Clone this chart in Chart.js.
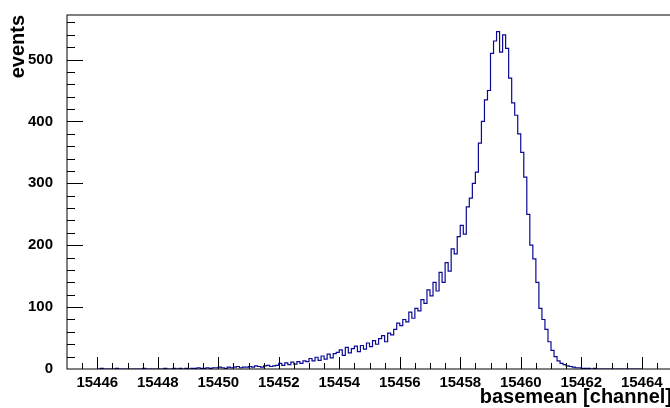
<!DOCTYPE html>
<html>
<head>
<meta charset="utf-8">
<script src="https://cdn.jsdelivr.net/npm/chart.js@4/dist/chart.umd.min.js"></script>
<style>
  html, body { margin: 0; padding: 0; background: #fff; overflow: hidden; }
  canvas { display: block; }
</style>
</head>
<body>
<canvas id="histo" width="675" height="408"></canvas>
<script>
// histogram binning (channel units)
const binStart = 15446.0;
const binWidth = 0.1;

// counts per bin, one row per channel unit
const counts = [
  0, 0, 1, 0, 0, 0, 0, 1, 0, 0,             // 15446
  0, 0, 0, 0, 0, 0, 1, 0, 0, 0,             // 15447
  0, 0, 0, 1, 0, 0, 1, 0, 1, 0,             // 15448
  1, 0, 1, 1, 2, 1, 1, 2, 1, 2,             // 15449
  2, 3, 2, 1, 3, 2, 3, 4, 2, 3,             // 15450
  3, 4, 3, 5, 4, 3, 5, 6, 4, 5,             // 15451
  6, 9, 6, 10, 7, 11, 8, 12, 9, 13,         // 15452
  12, 17, 13, 19, 14, 21, 16, 24, 18, 25,   // 15453
  27, 31, 22, 35, 26, 33, 37, 28, 38, 32,   // 15454
  42, 36, 46, 40, 49, 54, 44, 58, 55, 64,   // 15455
  74, 70, 80, 76, 92, 82, 98, 94, 112, 106, // 15456
  128, 118, 140, 126, 156, 140, 172, 158, 194, 186, // 15457
  214, 232, 218, 262, 276, 300, 318, 365, 400, 435, // 15458
  450, 510, 530, 545, 512, 540, 518, 470, 430, 410, // 15459
  380, 350, 310, 250, 200, 178, 140, 98, 80, 64,    // 15460
  44, 30, 20, 13, 9, 7, 5, 4, 3, 2,         // 15461
  2, 1, 1, 1, 0, 1, 0, 0, 0, 0,             // 15462
  0, 0, 0, 0, 0, 0, 0, 0, 0, 0              // 15463
];

const xTickValues = [15446, 15448, 15450, 15452, 15454, 15456, 15458, 15460, 15462, 15464];
const yTickValues = [0, 100, 200, 300, 400, 500];

const xRange = [15445, 15465];
const yRange = [0, 572];

// bin edges -> step points
const points = counts.map((c, i) => ({ x: binStart + i * binWidth, y: c }));
points.push({ x: binStart + counts.length * binWidth, y: counts[counts.length - 1] });

const labelFont = { family: '"Liberation Sans", Arial, sans-serif', size: 15, weight: 'bold' };
const titleFont = { family: '"Liberation Sans", Arial, sans-serif', size: 20, weight: 'bold' };

// ROOT-like frame with inward ticks
const framePlugin = {
  id: 'frame',
  afterDatasetsDraw(chart) {
    const { ctx, chartArea: a, scales: { x, y } } = chart;
    ctx.save();
    ctx.strokeStyle = '#000';
    ctx.lineWidth = 1;
    ctx.beginPath();
    // x ticks every 0.5, long at labelled values
    for (let v = xRange[0] + 0.5; v < xRange[1]; v += 0.5) {
      const px = Math.round(x.getPixelForValue(v)) + 0.5;
      const len = xTickValues.includes(v) ? 12 : 6;
      ctx.moveTo(px, a.bottom);
      ctx.lineTo(px, a.bottom - len);
    }
    // y ticks every 20, long every 100
    for (let v = 20; v < yRange[1]; v += 20) {
      const py = Math.round(y.getPixelForValue(v)) + 0.5;
      const len = v % 100 === 0 ? 16 : 8;
      ctx.moveTo(a.left, py);
      ctx.lineTo(a.left + len, py);
    }
    ctx.stroke();
    ctx.strokeRect(a.left, a.top, a.right - a.left, a.bottom - a.top);
    ctx.restore();
  }
};

new Chart(document.getElementById('histo'), {
  type: 'line',
  data: {
    datasets: [{
      data: points,
      stepped: 'after',
      borderColor: 'rgb(10, 10, 150)',
      borderWidth: 1.2,
      pointRadius: 0,
      fill: false
    }]
  },
  options: {
    responsive: false,
    animation: false,
    devicePixelRatio: 1,
    layout: { padding: { left: 0, right: 3, top: 14, bottom: 0 } },
    plugins: { legend: { display: false }, tooltip: { enabled: false } },
    scales: {
      x: {
        type: 'linear',
        min: xRange[0],
        max: xRange[1],
        afterBuildTicks: s => { s.ticks = xTickValues.map(v => ({ value: v })); },
        afterFit: s => { s.height = 39; },
        grid: { display: false },
        border: { display: false },
        ticks: {
          font: labelFont, color: '#000', padding: -3,
          maxRotation: 0, autoSkip: false,
          callback: v => String(v)
        },
        title: {
          display: true, text: 'basemean [channel]', align: 'end',
          font: titleFont, color: '#000', padding: { top: 0, bottom: -1 }
        }
      },
      y: {
        min: yRange[0],
        max: yRange[1],
        afterBuildTicks: s => { s.ticks = yTickValues.map(v => ({ value: v })); },
        afterFit: s => { s.width = 67; },
        grid: { display: false },
        border: { display: false },
        ticks: { font: labelFont, color: '#000', padding: 6, callback: v => String(v) },
        title: {
          display: true, text: 'events', align: 'end',
          font: titleFont, color: '#000', padding: { top: 6, bottom: 0 }
        }
      }
    }
  },
  plugins: [framePlugin]
});
</script>
</body>
</html>
